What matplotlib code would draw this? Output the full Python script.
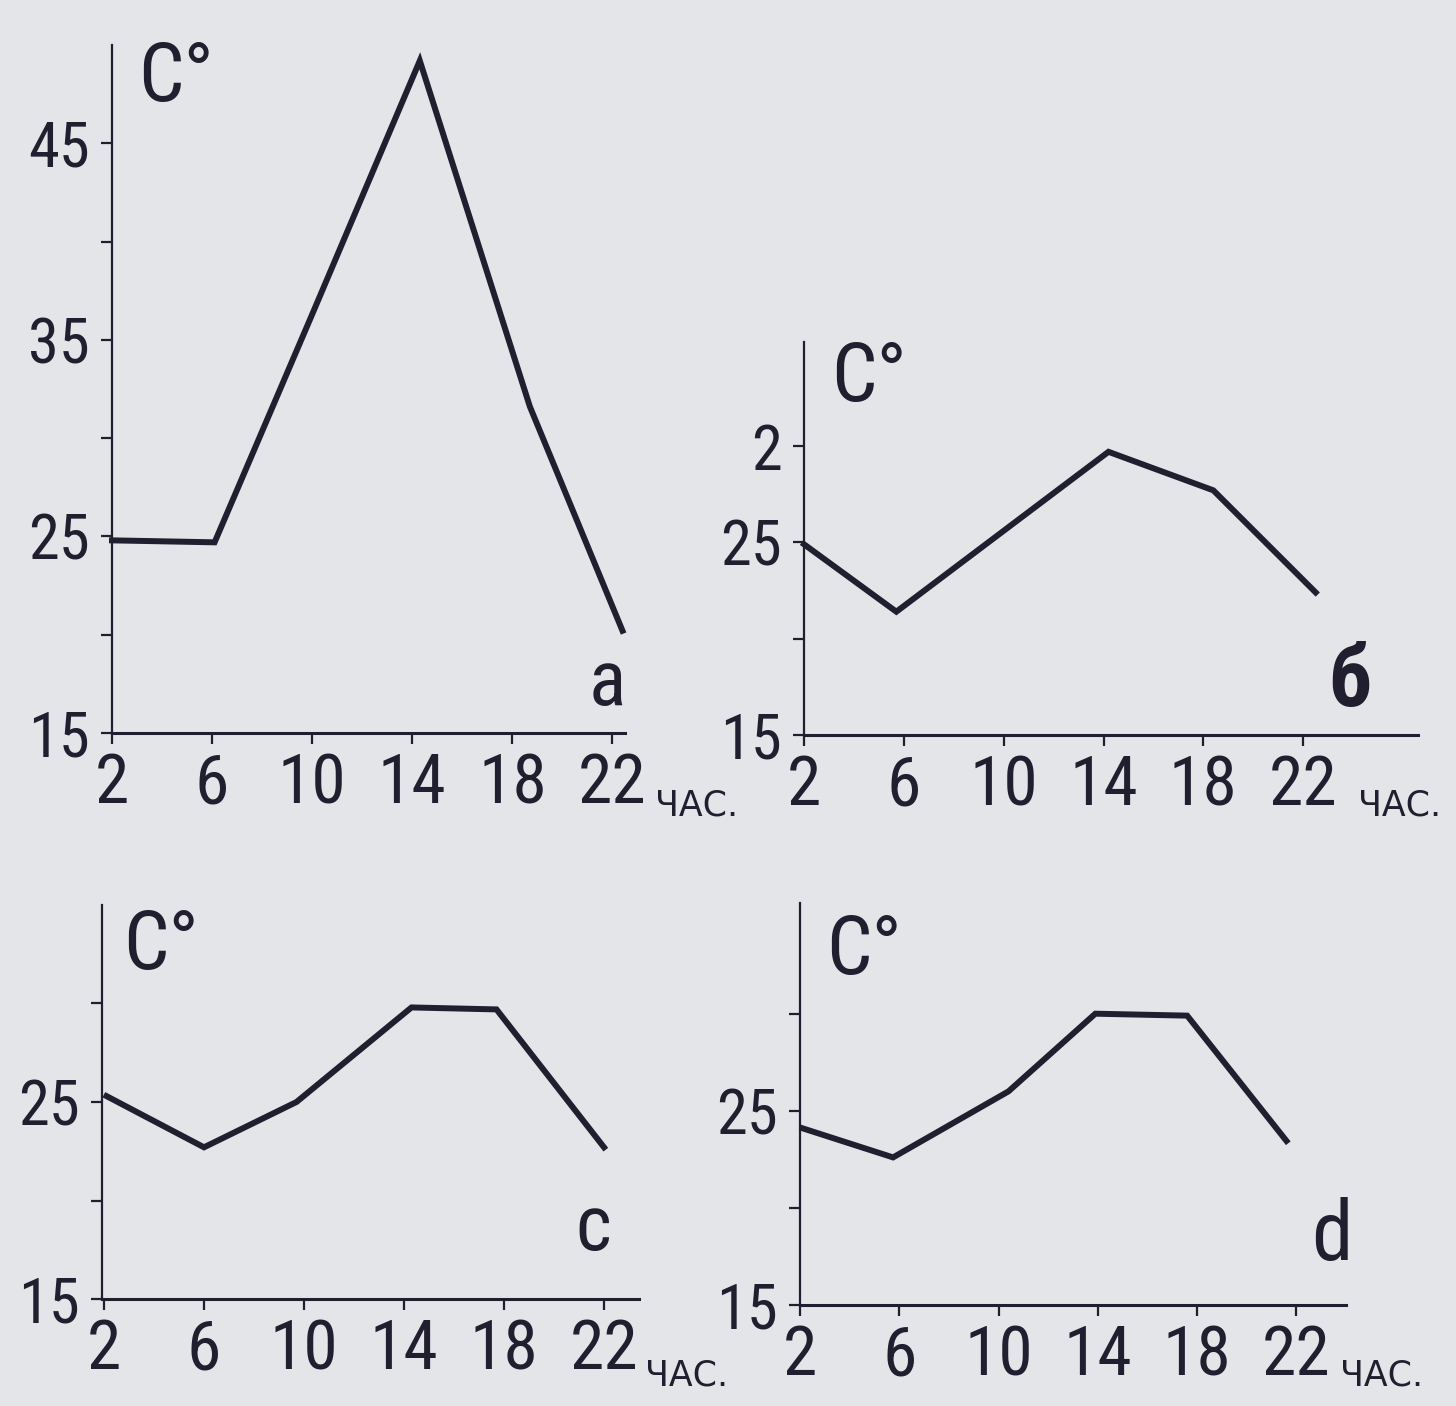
import matplotlib
matplotlib.use('Agg')
import matplotlib.pyplot as plt
from matplotlib import font_manager

W, H = 1456, 1406
ink = '#211f2f'
bg = '#e4e5e9'

# --- данные ---
hours_a = [2, 6.1, 10, 14.3, 18.7, 22.4]
temps_a = [24.8, 24.7, 36.3, 49.2, 31.6, 20.2]
hours_b = [2, 5.7, 10, 14.2, 18.4, 22.5]
temps_b = [24.9, 21.4, 25.6, 29.7, 27.7, 22.4]
hours_c = [2.1, 6, 9.7, 14.3, 17.7, 22]
temps_c = [25.3, 22.7, 25.0, 29.8, 29.7, 22.7]
hours_d = [2.1, 5.75, 10.4, 13.9, 17.6, 21.6]
temps_d = [24.1, 22.6, 26.0, 30.0, 29.9, 23.45]

xticks = [2, 6, 10, 14, 18, 22]
yticks_a = [15, 20, 25, 30, 35, 40, 45]
ylabels_a = ['15', '', '25', '', '35', '', '45']
yticks_small = [15, 20, 25, 30]
ylabels_b = ['15', '', '25', '2']
ylabels_cd = ['15', '', '25', '']
panel_labels = ['a', 'б', 'c', 'd']

# ищем узкий шрифт, если есть
fam, stretch, narrow = 'DejaVu Sans', 'normal', False
names = {f.name for f in font_manager.fontManager.ttflist}
for n in ['Liberation Sans Narrow', 'Roboto Condensed', 'Open Sans Condensed', 'DejaVu Sans Condensed']:
    if n in names:
        fam, narrow = n, True
        break
if not narrow:
    for f in font_manager.fontManager.ttflist:
        st = f.stretch
        if st in ('condensed', 'semi-condensed', 'extra-condensed') or (isinstance(st, int) and st < 100):
            if f.name in ('DejaVu Sans', 'Roboto', 'Open Sans', 'Liberation Sans', 'Noto Sans'):
                fam, stretch, narrow = f.name, st, True
                break
plt.rcParams['font.family'] = [fam, 'DejaVu Sans']
plt.rcParams['font.stretch'] = stretch

k = 1.0 if narrow else 0.8   # поправка размера для широкого шрифта

fig = plt.figure(figsize=(W / 100, H / 100), dpi=100, facecolor=bg)


def ftext(x, y, s, **kw):
    # позиция в пикселях картинки (сверху вниз)
    fig.text(x / W, 1 - y / H, s, color=ink, **kw)


def panel(box, xlim, ylim, hours, temps, yticks, ylabels):
    x0, ybase, x1, ytop = box
    ax = fig.add_axes([x0 / W, 1 - ybase / H, (x1 - x0) / W, (ybase - ytop) / H])
    ax.set_facecolor('none')
    ax.plot(hours, temps, color=ink, lw=4.3, solid_joinstyle='miter', clip_on=False)
    ax.set_xlim(*xlim)
    ax.set_ylim(*ylim)
    for s in ['top', 'right']:
        ax.spines[s].set_visible(False)
    ax.spines['left'].set_linewidth(1.6)
    ax.spines['bottom'].set_linewidth(2.2)
    ax.spines['left'].set_color(ink)
    ax.spines['bottom'].set_color(ink)
    ax.set_xticks(xticks)
    ax.set_xticklabels([str(t) for t in xticks])
    ax.set_yticks(yticks)
    ax.set_yticklabels(ylabels)
    ax.tick_params(axis='x', length=8, width=1.6, pad=5, labelsize=50 * k, colors=ink)
    ax.tick_params(axis='y', length=8, width=1.6, pad=8, labelsize=45 * k, colors=ink)
    return ax


panel((112, 733, 625, 45), (2, 22.5), (15, 50), hours_a, temps_a, yticks_a, ylabels_a)
panel((804, 735, 1418, 342), (2, 26.6), (15, 35.4), hours_b, temps_b, yticks_small, ylabels_b)
panel((102, 1299, 639, 905), (1.92, 23.4), (15, 35.0), hours_c, temps_c, yticks_small, ylabels_cd)
panel((800, 1305, 1346, 903), (2, 24.0), (15, 35.7), hours_d, temps_d, yticks_small, ylabels_cd)

# подписи C°
for (x, y) in [(138, 101), (831, 401), (123, 969), (826, 974)]:
    ftext(x, y, 'C°', fontsize=58 * k, va='baseline', ha='left')

# ЧАС.
for (x, y) in [(655, 815), (1358, 815), (645, 1385), (1340, 1385)]:
    ftext(x, y, 'ЧАС.', fontsize=25, va='baseline', ha='left', family='DejaVu Sans')

# буквы панелей
ftext(607, 705, panel_labels[0], fontsize=56 * k, va='baseline', ha='center')
ftext(1350, 706, panel_labels[1], fontsize=62 * k, fontweight='bold', va='baseline', ha='center')
ftext(593, 1250, panel_labels[2], fontsize=56 * k, va='baseline', ha='center')
ftext(1332, 1260, panel_labels[3], fontsize=60 * k, va='baseline', ha='center')

fig.savefig('out.png', dpi=100, facecolor=bg)
